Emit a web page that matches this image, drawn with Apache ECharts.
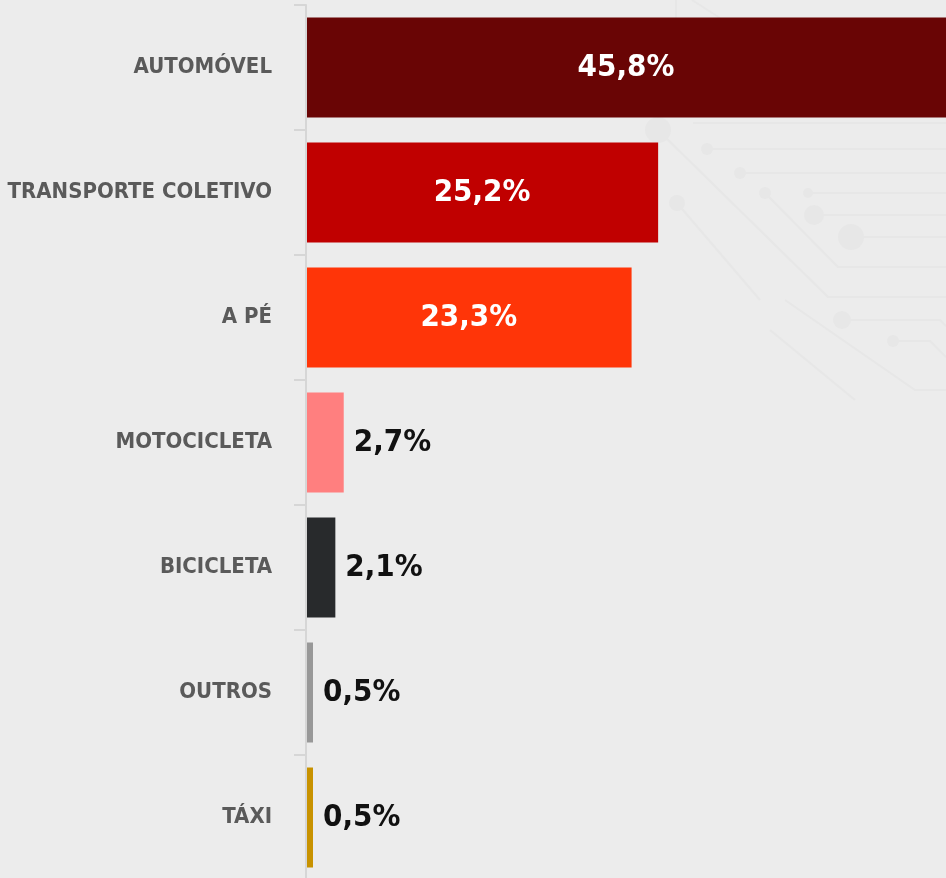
<!DOCTYPE html>
<html>
<head>
    <meta charset='utf-8'>
    <script src="https://cdn.jsdelivr.net/npm/echarts@6/dist/echarts.min.js"></script>
</head>
<body>
<style>
    html, body, #main {
        width: 100%;
        height: 100%;
        margin: 0;
        padding: 0;
        background: #ececec;
    }
</style>
<div id="main"></div>
<script>
    var categories = ['AUTOMÓVEL', 'TRANSPORTE COLETIVO', 'A PÉ', 'MOTOCICLETA', 'BICICLETA', 'OUTROS', 'TÁXI'];
    var values = [45.8, 25.2, 23.3, 2.7, 2.1, 0.5, 0.5];
    var barColors = ['#690505', '#c00000', '#ff3508', '#ff7f7f', '#282a2c', '#989898', '#c89200'];
    // big bars get a white label inside, small ones a black label to the right
    var insideLabel = [true, true, true, false, false, false, false];

    var FONT = "'DejaVu Sans Condensed', 'Arial Narrow', sans-serif";
    var TRACE = '#e7e7e7';

    var chart = echarts.init(document.getElementById('main'));

    function fmt(v) {
        return v.toFixed(1).replace('.', ',') + '%';
    }

    // faint circuit-board decoration in the background
    function trace(points) {
        return { type: 'polyline', silent: true, z: -10, shape: { points: points },
                 style: { stroke: TRACE, lineWidth: 2, fill: null } };
    }
    function pad(x, y, r) {
        return { type: 'circle', silent: true, z: -10, shape: { cx: x, cy: y, r: r },
                 style: { fill: TRACE } };
    }
    var decor = [
        trace([[693, 123], [946, 123]]),
        trace([[707, 149], [946, 149]]), pad(707, 149, 6),
        trace([[740, 173], [946, 173]]), pad(740, 173, 6),
        trace([[808, 193], [946, 193]]), pad(808, 193, 5),
        trace([[814, 215], [946, 215]]), pad(814, 215, 10),
        trace([[851, 237], [946, 237]]), pad(851, 237, 13),
        trace([[765, 193], [838, 267], [946, 267]]), pad(765, 193, 6),
        trace([[658, 130], [828, 297], [946, 297]]), pad(658, 130, 13),
        trace([[677, 203], [760, 300]]), pad(677, 203, 8),
        trace([[842, 320], [940, 320], [946, 326]]), pad(842, 320, 9),
        trace([[893, 341], [930, 341], [946, 357]]), pad(893, 341, 6),
        trace([[785, 300], [915, 390], [946, 390]]),
        trace([[770, 330], [855, 400]]),
        trace([[676, 0], [676, 18]]),
        trace([[692, 0], [720, 18]])
    ];

    var data = values.map(function (v, i) {
        return {
            value: v,
            itemStyle: { color: barColors[i] },
            label: insideLabel[i]
                ? { position: 'inside', color: '#ffffff' }
                : { position: 'right', distance: 10, color: '#111111' }
        };
    });

    chart.setOption({
        backgroundColor: '#ececec',
        graphic: { elements: decor },
        grid: {
            left: 306,
            right: 0,
            top: 5,
            height: 875,
            containLabel: false,
            outerBoundsMode: 'none'
        },
        xAxis: {
            type: 'value',
            min: 0,
            max: 45.8,
            show: false
        },
        yAxis: {
            type: 'category',
            inverse: true,
            data: categories,
            z: 5,
            axisLine: { show: true, lineStyle: { color: '#d6d6d6', width: 2 } },
            axisTick: { show: true, length: 12, lineStyle: { color: '#d6d6d6', width: 2 } },
            axisLabel: {
                margin: 34,
                color: '#5a5a5a',
                fontFamily: FONT,
                fontWeight: 'bold',
                fontSize: 22
            }
        },
        series: [{
            type: 'bar',
            data: data,
            z: 3,
            barCategoryGap: '20%',
            label: {
                show: true,
                fontFamily: FONT,
                fontWeight: 'bold',
                fontSize: 31,
                formatter: function (p) { return fmt(p.value); }
            },
            animation: false
        }]
    });
</script>
</body>
</html>
